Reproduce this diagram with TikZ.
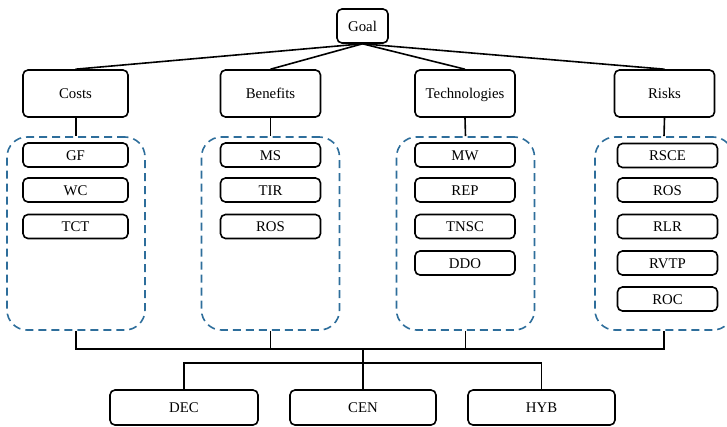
\documentclass[tikz,border=0pt]{standalone}
\usepackage{fontspec}
\setmainfont{Liberation Serif}
\definecolor{dashblue}{RGB}{46,110,155}
\begin{document}
\begin{tikzpicture}[x=1pt,y=-1pt,
  box/.style={draw=black,line width=1.6pt,rounded corners=5pt,inner sep=0pt,font=\fontsize{14.8}{17}\selectfont,text height=10.6pt,text depth=0.6pt},
  catbox/.style={box,minimum width=100pt,minimum height=47pt},
  itembox/.style={box,minimum width=100pt,minimum height=24pt},
  altbox/.style={box,minimum width=147pt,minimum height=35pt},
  group/.style={draw=dashblue,line width=1.6pt,dash pattern=on 8pt off 5pt,rounded corners=20pt,minimum width=138pt,minimum height=193pt,inner sep=0pt},
  link/.style={draw=black,line width=1.6pt}]
\useasboundingbox (0,0) rectangle (727,426);
\begin{scope}
\clip (0,0) rectangle (727,426);
% goal
\node[box,minimum width=51pt,minimum height=34pt] (goal) at (362.5,26) {Goal};
% categories
\node[catbox,minimum width=105pt] (costs) at (75.5,93.5) {Costs};
\node[catbox] (benefits) at (270.5,93.5) {Benefits};
\node[catbox] (tech) at (465,93.5) {Technologies};
\node[catbox] (risks) at (664.5,93.5) {Risks};
% groups
\node[group] (gc) at (76,233.5) {};
\node[group] (gb) at (270.5,233.5) {};
\node[group] (gt) at (465.5,233.5) {};
\node[group] (gr) at (664,233.5) {};
% items
\node[itembox,minimum width=105pt] (gf) at (75.5,155) {GF};
\node[itembox,minimum width=105pt] (wc) at (75.5,190) {WC};
\node[itembox,minimum width=105pt] (tct) at (75.5,226.5) {TCT};
\node[itembox] (ms) at (270.5,155) {MS};
\node[itembox] (tir) at (270.5,190) {TIR};
\node[itembox] (ros1) at (270.5,226.5) {ROS};
\node[itembox] (mw) at (465,155) {MW};
\node[itembox] (rep) at (465,190) {REP};
\node[itembox] (tnsc) at (465,226.5) {TNSC};
\node[itembox] (ddo) at (465,263) {DDO};
\node[itembox] (rsce) at (667.5,155.5) {RSCE};
\node[itembox] (ros2) at (667.5,190) {ROS};
\node[itembox] (rlr) at (667.5,226.5) {RLR};
\node[itembox] (rvtp) at (667.5,263) {RVTP};
\node[itembox] (roc) at (667.5,299) {ROC};
% alternatives
\node[altbox,minimum width=148pt] (dec) at (184,407.5) {DEC};
\node[altbox,minimum width=146pt] (cen) at (363,407.5) {CEN};
\node[altbox] (hyb) at (541.5,407.5) {HYB};
% connectors goal -> categories
\foreach \c in {costs,benefits,tech,risks}
  \draw[link] (goal.south) -- (\c.north);
% categories -> groups
\draw[link] (costs.south -| gc.north) -- (gc.north);
\draw[link] (benefits.south) -- (gb.north);
\draw[link] (tech.south) -- (gt.north);
\draw[link] (risks.south) -- (gr.north);
% bus
\coordinate (bus) at (363,349);
\coordinate (split) at (363,363);
\draw[link] (gc.south) -- (gc.south |- bus) -- (gr.south |- bus) -- (gr.south);
\draw[link] (gb.south) -- (gb.south |- bus);
\draw[link] (gt.south) -- (gt.south |- bus);
\draw[link] (bus) -- (cen.north);
\draw[link] (dec.north) |- (split) -| (hyb.north);
\end{scope}
\end{tikzpicture}
\end{document}
